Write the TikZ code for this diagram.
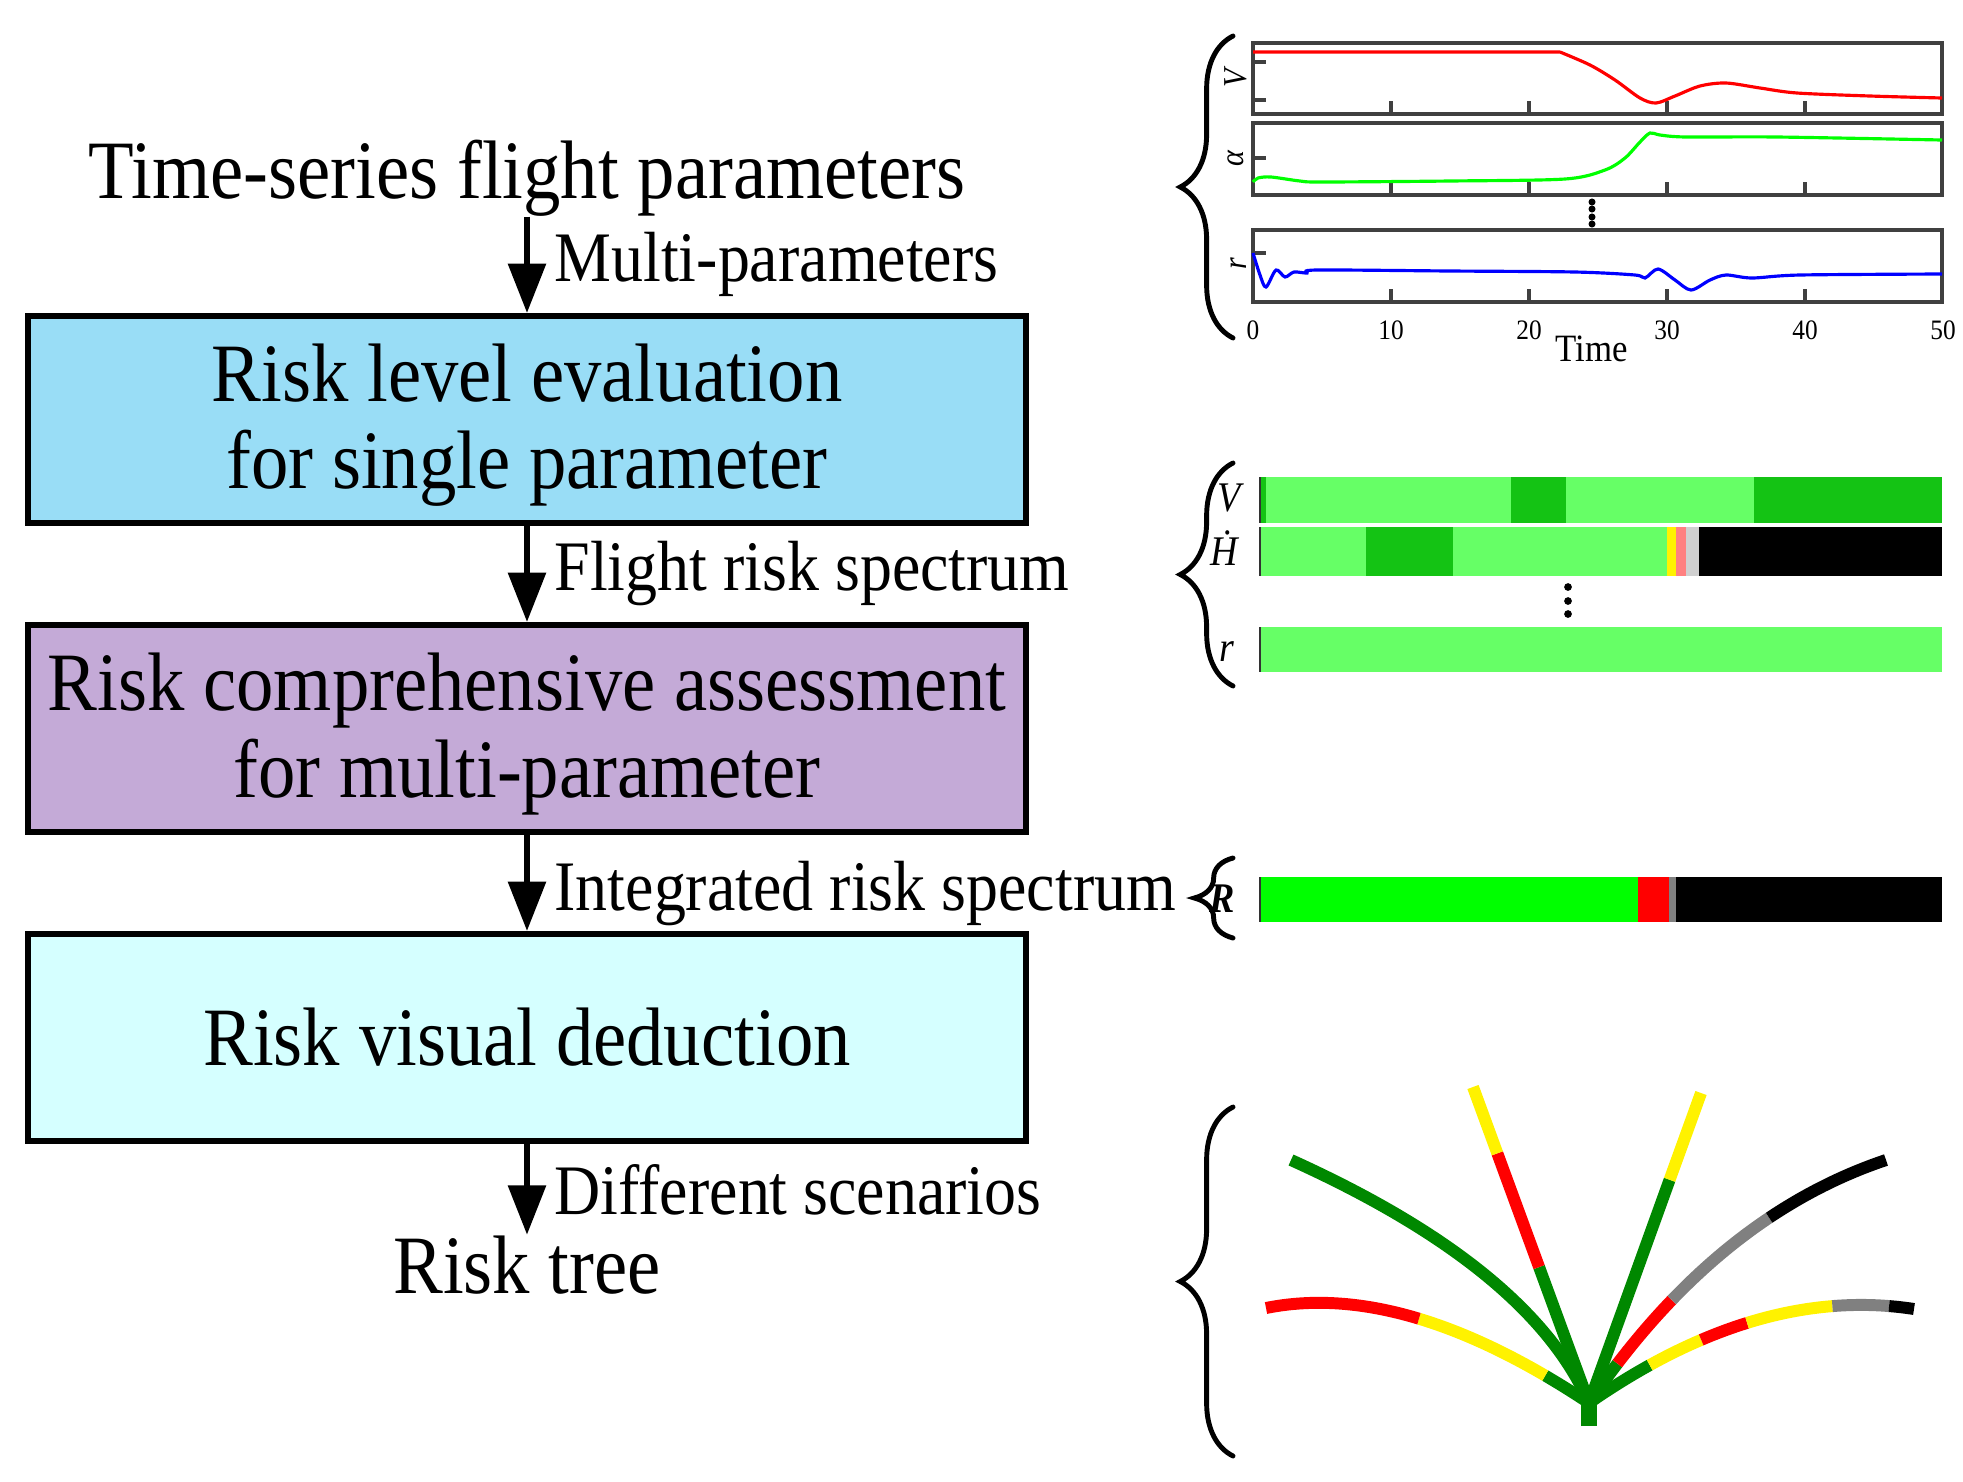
\documentclass[tikz,border=0pt]{standalone}
\usepackage{fontspec}
\setmainfont[FakeStretch=0.9]{Liberation Serif}
\usetikzlibrary{positioning, calc, arrows.meta, decorations.pathreplacing}

\definecolor{evalblue}{RGB}{153,221,246}
\definecolor{assesspurple}{RGB}{196,170,215}
\definecolor{deducecyan}{RGB}{213,255,255}
\definecolor{lgreen}{RGB}{102,255,102}
\definecolor{dgreen}{RGB}{20,195,20}
\definecolor{salmon}{RGB}{255,128,128}
\definecolor{lgray}{RGB}{208,208,208}
\definecolor{treegreen}{RGB}{0,136,0}

\newcommand\flowfont{\fontsize{23.6}{24.8}\selectfont}
\newcommand\arrfont{\fontsize{20.2}{22}\selectfont}
\newcommand\speclabfont{\fontsize{12}{13}\selectfont\itshape}
\newcommand\plotlabfont{\fontsize{9.5}{10}\selectfont\itshape}
\newcommand\axisfont{\fontsize{8}{9}\selectfont}

\tikzset{flowtext/.style={inner sep=0pt, font=\flowfont}}
\tikzset{procbox/.style={draw, line width=1.7pt, minimum width=9.98cm, minimum height=2.07cm, inner sep=0pt, align=center, font=\flowfont}}
\tikzset{arrf/.style={draw, line width=1.7pt, -{Triangle[length=14pt, width=10.5pt]}}}
\tikzset{arrlab/.style={right=7pt, inner sep=0pt, font=\arrfont}}
\tikzset{plotframe/.style={draw=black!75, line width=0.9pt}}
\tikzset{sig/.style={line width=0.9pt}}
\tikzset{rbrace/.style={decorate, decoration={brace, amplitude=#1}, line width=1.4pt, line cap=round}}
\tikzset{branch/.style={line width=3.4pt}}
% one coloured piece of a quadratic branch, from t=#5 to t=#6
\newcommand\riskseg[6]{
		\coordinate (sa) at ($ {(1-#5)*(1-#5)}*(#2) + {2*(1-#5)*#5}*(#3) + {#5*#5}*(#4) $);
		\coordinate (sq) at ($ {(1-#5)*(1-#6)}*(#2) + {(1-#5)*#6+#5*(1-#6)}*(#3) + {#5*#6}*(#4) $);
		\coordinate (sb) at ($ {(1-#6)*(1-#6)}*(#2) + {2*(1-#6)*#6}*(#3) + {#6*#6}*(#4) $);
		\draw[branch, #1] (sa) .. controls ($(sa)!2/3!(sq)$) and ($(sb)!2/3!(sq)$) .. (sb);
		}

\begin{document}
\begin{tikzpicture}[x=0.01cm, y=-0.01cm]
		\useasboundingbox (0,0) rectangle (1963,1481);
		% flow chart
		\node[flowtext, anchor=base] (series) at (527,198) {Time-series flight parameters};
		\node[procbox, fill=evalblue, text height=44.3pt] (eval) at (527,419.5) {Risk level evaluation\\for single parameter};
		\node[procbox, fill=assesspurple, text height=44.3pt] (assess) at (527,728.5) {Risk comprehensive assessment\\for multi-parameter};
		\node[procbox, fill=deducecyan] (deduce) at (527,1037.5) {Risk visual deduction};
		\node[flowtext, anchor=base] (tree) at (527,1293) {Risk tree};
		\draw[arrf] (series) -- node[arrlab] (multi) {Multi-parameters} (eval);
		\draw[arrf] (eval) -- node[arrlab] (spec) {Flight risk spectrum} (assess);
		\draw[arrf] (assess) -- node[arrlab, yshift=-3pt] (integ) {Integrated risk spectrum} (deduce);
		\draw[arrf] (deduce) -- node[arrlab] (scen) {Different scenarios} (tree);

		% time-series plots
		\foreach \ya/\yb in {43/114, 123/195, 230/302} {
			\draw[plotframe] (1253,\ya) rectangle (1942,\yb);
			\foreach \t in {1,...,4}
				\draw[plotframe] (1253+138*\t,\yb) -- ++(0,-13);
		}
		\foreach \ty in {62,100,158,253}
			\draw[plotframe] (1253,\ty) -- ++(13,0);
		\foreach \t in {0,10,...,50}
			\node[font=\axisfont, inner sep=0pt] (tick\t) at (1253+13.8*\t,330) {\t};
		\node[font=\fontsize{11}{12}\selectfont, inner sep=0pt] (timelab) at (1592,349) {Time};
		\draw[sig, red] (1253,52) -- (1560,52) plot[smooth, tension=0.5] coordinates {(1560,52) (1590,65) (1615,80) (1640,98) (1656,103) (1675,96) (1700,86) (1726,83) (1760,88) (1797,93) (1870,96) (1942,98)};
		\draw[sig, green] plot[smooth, tension=0.5] coordinates {(1253,182) (1258,178) (1271,177) (1300,181) (1322,182) (1450,181) (1565,179) (1605,170) (1625,158) (1640,142) (1650,133) (1660,135) (1686,137) (1777,137) (1942,140)};
		\draw[sig, blue] plot[smooth, tension=0.5] coordinates {(1253,253) (1260,275) (1266,287) (1276,270) (1285,277) (1294,272) (1307,273) (1317,270) (1450,271) (1575,272) (1635,275) (1645,278) (1658,269) (1675,280) (1691,290) (1710,280) (1726,275) (1752,278) (1800,275) (1942,274)};
		\node[font=\plotlabfont, rotate=90, inner sep=0pt] (vlab) at (1236,78) {V};
		\node[font=\plotlabfont, rotate=90, inner sep=0pt] (alab) at (1236,159) {α};
		\node[font=\plotlabfont, rotate=90, inner sep=0pt] (rlab) at (1239,264) {r};
		\foreach \dy in {202,209,217,224}
			\fill (1592,\dy) circle[radius=1pt];

		% risk spectra
		\foreach \xa/\xb/\col in {1260/1266/dgreen, 1266/1511/lgreen, 1511/1566/dgreen, 1566/1754/lgreen, 1754/1942/dgreen}
			\fill[\col] (\xa,477) rectangle (\xb,523);
		\foreach \xa/\xb/\col in {1260/1366/lgreen, 1366/1453/dgreen, 1453/1667/lgreen, 1667/1676/yellow, 1676/1686/salmon, 1686/1699/lgray, 1699/1942/black}
			\fill[\col] (\xa,527) rectangle (\xb,576);
		\fill[lgreen] (1260,627) rectangle (1942,672);
		\foreach \xa/\xb/\col in {1260/1638/green, 1638/1669/red, 1669/1676/gray, 1676/1942/black}
			\fill[\col] (\xa,877) rectangle (\xb,922);
		\foreach \ya/\yb in {477/523, 527/576, 627/672, 877/922}
			\draw[black!80, line width=0.7pt] (1260,\ya) -- (1260,\yb);
		\node[font=\speclabfont, inner sep=0pt] (vspec) at (1229,498) {V};
		\node[font=\speclabfont, inner sep=0pt] (hspec) at (1224,548) {\.{H}};
		\node[font=\speclabfont, inner sep=0pt] (rspec) at (1227,652) {r};
		\node[font=\speclabfont\bfseries, inner sep=0pt] (Rspec) at (1222,899) {R};
		\foreach \dy in {587,601,614}
			\fill (1568,\dy) circle[radius=1.1pt];

		% braces
		\draw[rbrace=15pt] (1233,338) -- (1233,36);
		\draw[rbrace=15pt] (1233,686) -- (1233,463);
		\draw[rbrace=11pt] (1233,938) -- (1233,858);
		\draw[rbrace=15pt] (1233,1456) -- (1233,1107);

		% risk tree
		\coordinate (root) at (1589,1403);
		\draw[branch, treegreen, line width=4.8pt] (1589,1426) -- (root);
		\coordinate (b1c) at (1404,1280); \coordinate (b1e) at (1266,1308);
		\coordinate (b2c) at (1530,1268); \coordinate (b2e) at (1291,1160);
		\coordinate (b3e) at (1473,1087); \coordinate (b3c) at ($(root)!0.5!(b3e)$);
		\coordinate (b4e) at (1701,1093); \coordinate (b4c) at ($(root)!0.5!(b4e)$);
		\coordinate (b5c) at (1716,1217); \coordinate (b5e) at (1886,1160);
		\coordinate (b6c) at (1759,1285); \coordinate (b6e) at (1914,1309);
		\foreach \col/\ta/\tb in {treegreen/0/0.12, yellow/0.12/0.49, red/0.49/1}
			{\riskseg{\col}{root}{b1c}{b1e}{\ta}{\tb}}
		\riskseg{treegreen}{root}{b2c}{b2e}{0}{1}
		\foreach \col/\ta/\tb in {treegreen/0/0.43, red/0.43/0.79, yellow/0.79/1}
			{\riskseg{\col}{root}{b3c}{b3e}{\ta}{\tb}}
		\foreach \col/\ta/\tb in {treegreen/0/0.72, yellow/0.72/1}
			{\riskseg{\col}{root}{b4c}{b4e}{\ta}{\tb}}
		\foreach \col/\ta/\tb in {treegreen/0/0.11, red/0.11/0.31, gray/0.31/0.64, black/0.64/1}
			{\riskseg{\col}{root}{b5c}{b5e}{\ta}{\tb}}
		\foreach \col/\ta/\tb in {treegreen/0/0.18, yellow/0.18/0.335, red/0.335/0.475, yellow/0.475/0.74, gray/0.74/0.92, black/0.92/1}
			{\riskseg{\col}{root}{b6c}{b6e}{\ta}{\tb}}
	\end{tikzpicture}
\end{document}
